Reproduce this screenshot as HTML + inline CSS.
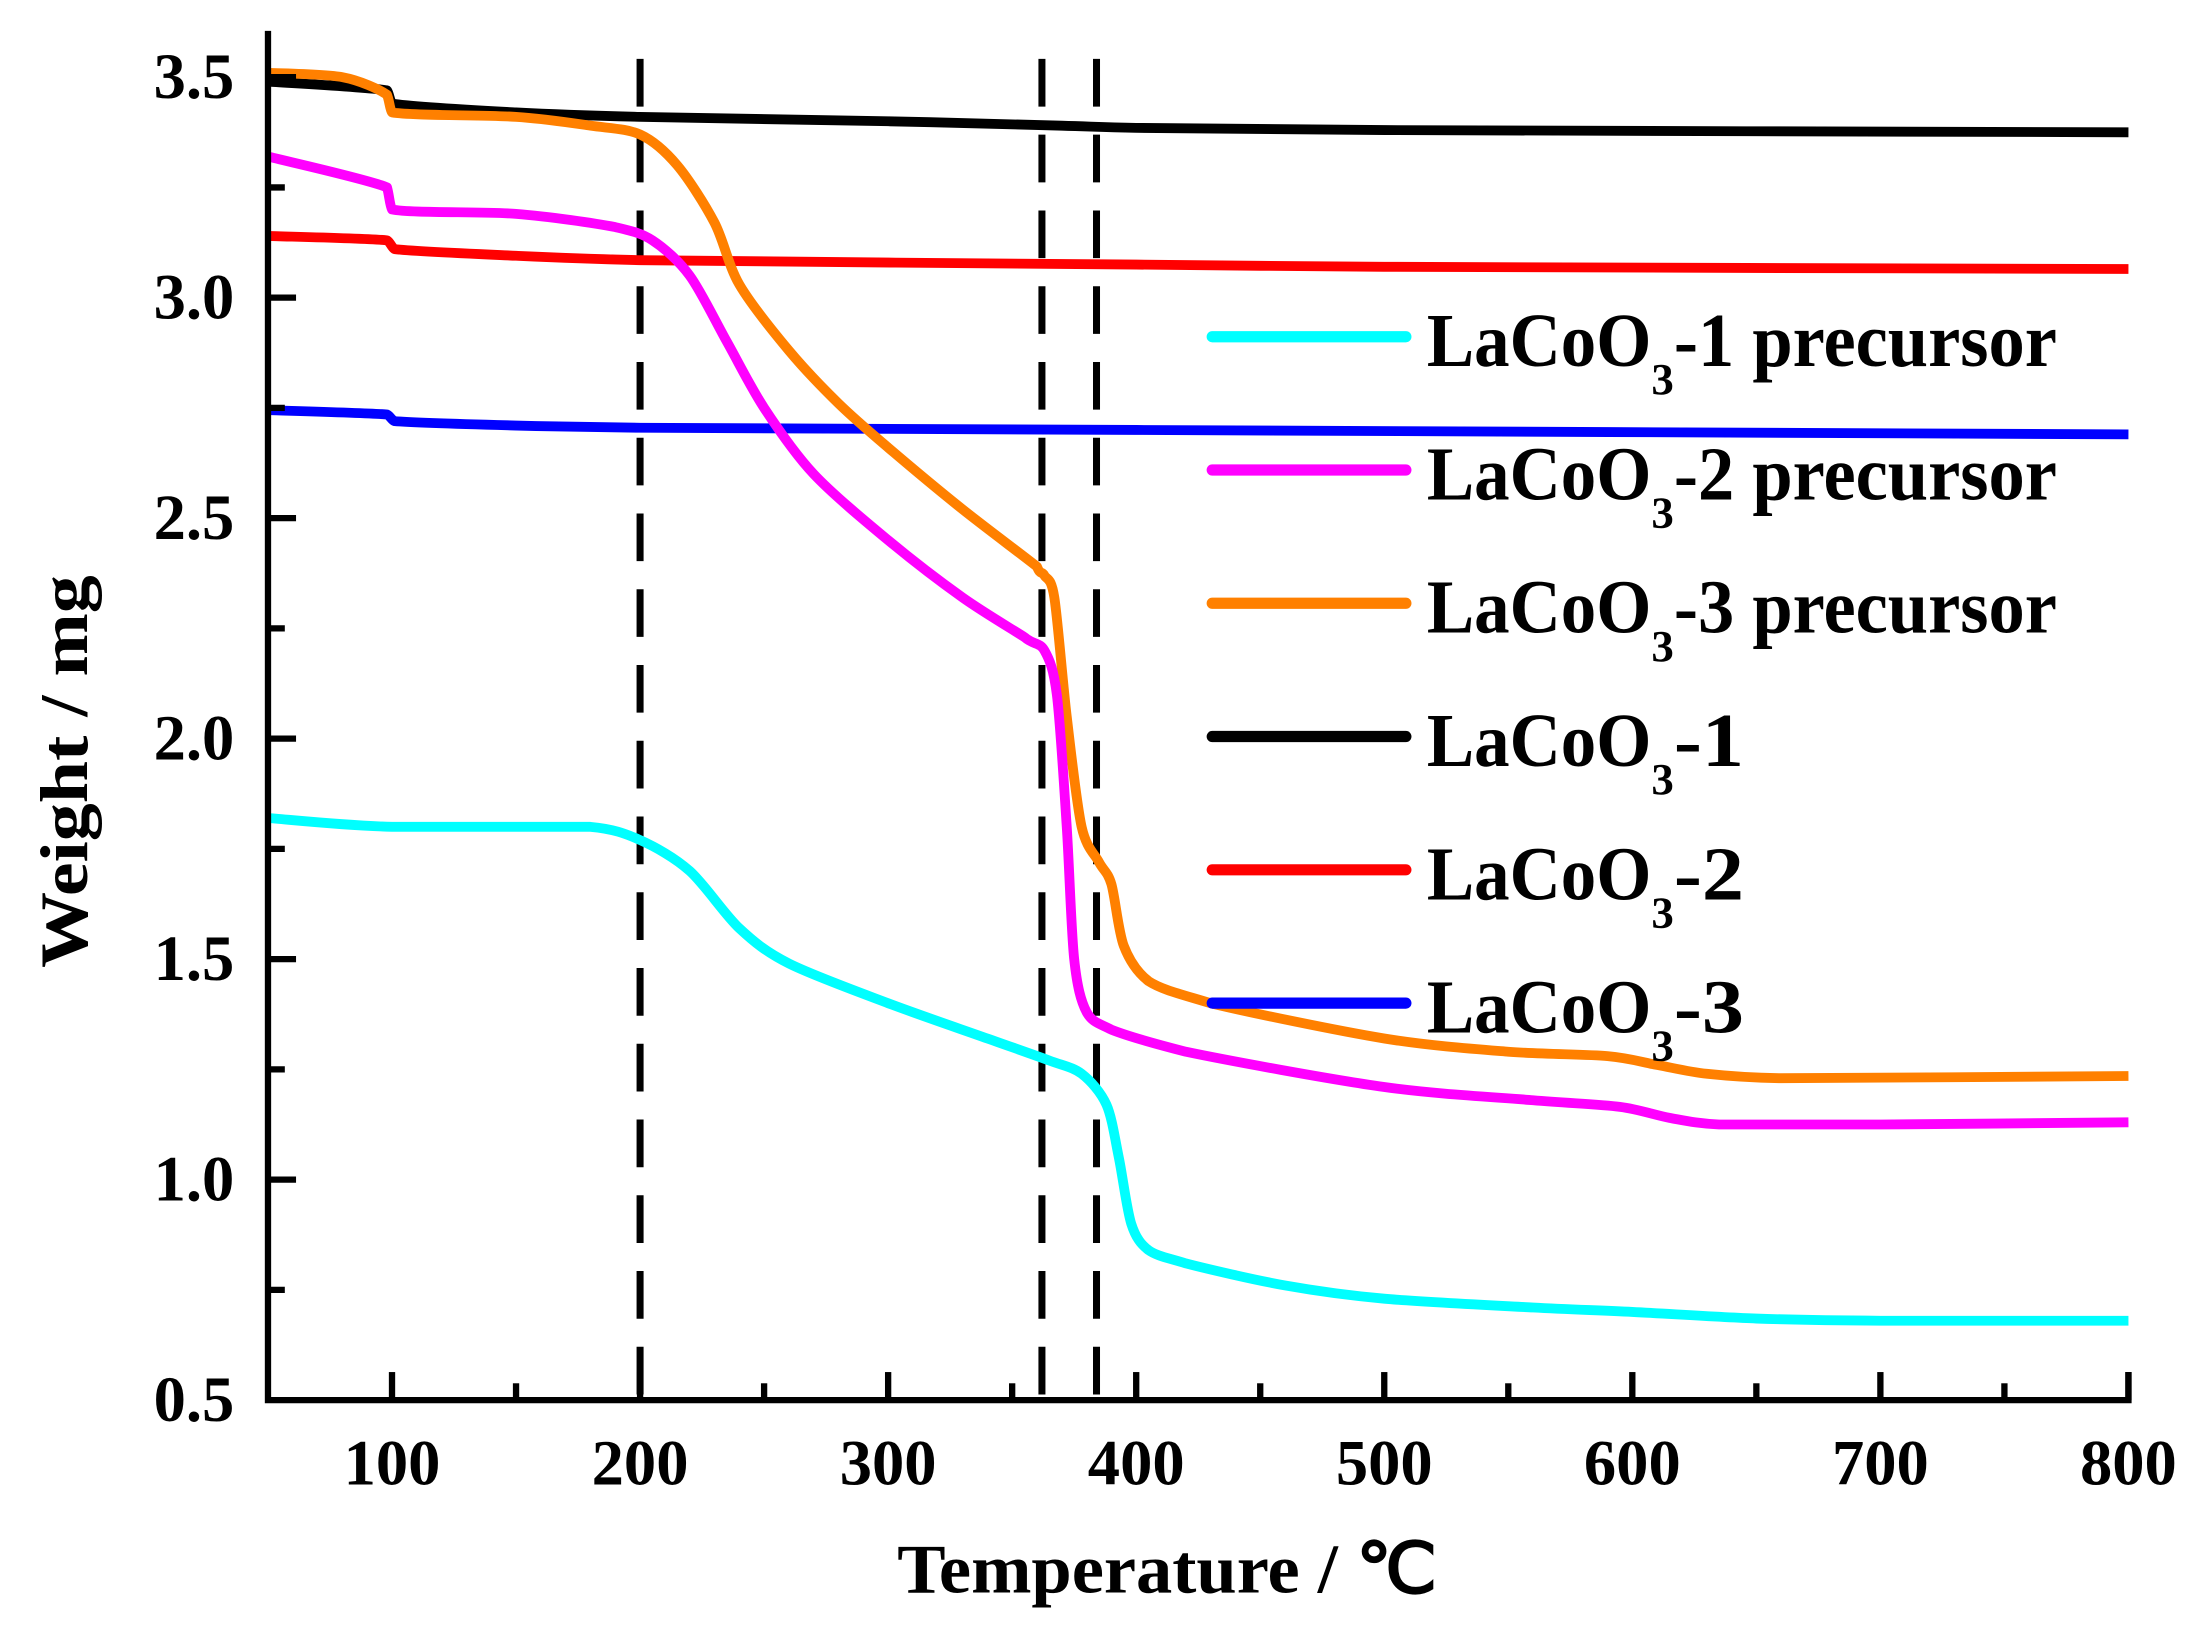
<!DOCTYPE html>
<html><head><meta charset="utf-8"><style>html,body{margin:0;padding:0;background:#fff}svg{display:block}</style></head>
<body>
<svg id="chart" width="2200" height="1633" viewBox="0 0 1568 1164" preserveAspectRatio="none" xmlns="http://www.w3.org/2000/svg" font-family="'Liberation Serif', serif">
<g id="plot"></g>
<g id="axes"></g>
<g id="legend"></g>
<text x="832" y="1135" font-size="50" font-weight="bold" text-anchor="middle" textLength="385" lengthAdjust="spacingAndGlyphs">Temperature / ℃</text>
<text transform="translate(62,550) rotate(-90)" font-size="48" font-weight="bold" text-anchor="middle" textLength="280" lengthAdjust="spacingAndGlyphs">Weight / mg</text>
</svg>
<script>
const xTicks=[100,200,300,400,500,600,700,800];
const yTicks=[0.5,1.0,1.5,2.0,2.5,3.0,3.5];
const dashedTemps=[200,362,384];
const seriesNames=["LaCoO3-1 precursor","LaCoO3-2 precursor","LaCoO3-3 precursor","LaCoO3-1","LaCoO3-2","LaCoO3-3"];
const seriesColors=["#00ffff","#ff00ff","#ff8000","#000000","#ff0000","#0000ff"];
const cyanT=[50,100,180,200,220,240,260,300,340,365,378,388,393,398,405,420,460,500,560,600,650,700,800];
const cyanW=[1.82,1.80,1.80,1.77,1.70,1.57,1.49,1.40,1.32,1.27,1.24,1.17,1.05,0.90,0.84,0.81,0.76,0.73,0.71,0.70,0.685,0.68,0.68];
const magT=[50,98,100,150,190,205,220,235,250,270,300,330,355,363,368,372,375,380,390,420,500,560,595,615,635,700,800];
const magW=[3.32,3.25,3.20,3.19,3.16,3.13,3.05,2.90,2.75,2.60,2.45,2.32,2.23,2.20,2.10,1.80,1.50,1.38,1.34,1.29,1.21,1.18,1.165,1.14,1.125,1.125,1.13];
const orT=[50,80,98,100,150,180,200,215,230,240,260,280,300,330,360,363,367,372,378,385,390,395,405,430,500,550,590,610,630,660,800];
const orW=[3.51,3.50,3.46,3.42,3.41,3.39,3.37,3.30,3.17,3.03,2.88,2.76,2.66,2.52,2.39,2.37,2.32,2.05,1.80,1.72,1.67,1.53,1.45,1.40,1.32,1.29,1.28,1.26,1.24,1.23,1.235];
const blackT=[50,98,100,150,200,300,370,400,500,800];
const blackW=[3.49,3.47,3.44,3.42,3.41,3.40,3.39,3.385,3.38,3.375];
const redT=[50,98,101,150,200,400,500,800];
const redW=[3.14,3.13,3.11,3.095,3.085,3.075,3.07,3.065];
const blueT=[50,98,101,150,200,400,800];
const blueW=[2.745,2.735,2.72,2.71,2.705,2.70,2.69];

const X0=191,X1=1517,Y0=998,Y1=55;
const xs=t=>X0+(t-50)/(800-50)*(X1-X0);
const ys=w=>Y0-(w-0.5)/(3.5-0.5)*(Y0-Y1);
const NS="http://www.w3.org/2000/svg";
function mk(tag,attrs,parent){const e=document.createElementNS(NS,tag);for(const k in attrs)e.setAttribute(k,attrs[k]);parent.appendChild(e);return e;}
const plot=document.getElementById('plot'),axes=document.getElementById('axes'),legend=document.getElementById('legend');

dashedTemps.forEach(t=>{
 const l=mk('line',{x1:xs(t),x2:xs(t),y1:42,y2:Y0,stroke:'#000','stroke-width':5,'stroke-dasharray':'34 20'},plot);
 
 
});
const data=[[cyanT,cyanW],[magT,magW],[orT,orW],[blackT,blackW],[redT,redW],[blueT,blueW]];
function smoothPath(P){
 let d=`M${P[0][0]},${P[0][1]}`;
 for(let i=0;i<P.length-1;i++){
  const p0=P[i-1]||P[i],p1=P[i],p2=P[i+1],p3=P[i+2]||p2;
  const dx=p2[0]-p1[0];
  const k=0.15;
  let c1x=p1[0]+Math.min((p2[0]-p0[0])*k,dx*0.45), c1y=p1[1]+(p2[1]-p0[1])*k;
  let c2x=p2[0]-Math.min((p3[0]-p1[0])*k,dx*0.45), c2y=p2[1]-(p3[1]-p1[1])*k;
  const lo=Math.min(p1[1],p2[1]),hi=Math.max(p1[1],p2[1]);
  c1y=Math.max(lo,Math.min(hi,c1y));c2y=Math.max(lo,Math.min(hi,c2y));
  d+=` C${c1x},${c1y} ${c2x},${c2y} ${p2[0]},${p2[1]}`;
 }
 return d;
}
const order=[3,4,5,2,1,0];
order.forEach(i=>{
 const [T,W]=data[i];
 const P=T.map((t,j)=>[xs(t),ys(W[j])]);
 const p=mk('path',{d:smoothPath(P),fill:'none',stroke:seriesColors[i],'stroke-width':7,'stroke-linejoin':'round'},plot);
 
 
});
const ax=mk('path',{d:`M${X0},22 L${X0},${Y0} L${X1},${Y0} L${X1},${Y0-20}`,fill:'none',stroke:'#000','stroke-width':4.5},axes);


for(let t=100;t<=800;t+=50){
 const major=t%100===0;
 const tk=mk('line',{x1:xs(t),x2:xs(t),y1:Y0,y2:Y0-(major?20:12),stroke:'#000','stroke-width':4.5},axes);
 
 
}
xTicks.forEach(t=>{
 const tx=mk('text',{x:xs(t),y:1058,'font-size':46,'font-weight':'bold','text-anchor':'middle'},axes);
 tx.textContent=t;
 
 
});
for(let w=0.75;w<=3.5;w+=0.25){
 const major=Math.abs(w*2-Math.round(w*2))<1e-6;
 const tk=mk('line',{x1:X0,x2:X0+(major?20:12),y1:ys(w),y2:ys(w),stroke:'#000','stroke-width':4.5},axes);
 
 
}
yTicks.forEach(w=>{
 const tx=mk('text',{x:167,y:ys(w)+15,'font-size':46,'font-weight':'bold','text-anchor':'end'},axes);
 tx.textContent=w.toFixed(1);
 
 
});
seriesNames.forEach((n,i)=>{
 const y=240+i*95;
 const ln=mk('line',{x1:864,x2:1002,y1:y,y2:y,stroke:seriesColors[i],'stroke-width':8,'stroke-linecap':'round'},legend);
 
 
 const tx=mk('text',{x:1017,y:y+21,'font-size':54,'font-weight':'bold'},legend);
 
 
 const rest=n.slice(6);
 const a=document.createElementNS(NS,'tspan');a.textContent='LaCoO';a.setAttribute('textLength','160');a.setAttribute('lengthAdjust','spacingAndGlyphs');tx.appendChild(a);
 const b=document.createElementNS(NS,'tspan');b.textContent='3';b.setAttribute('font-size','32');b.setAttribute('dy','20');tx.appendChild(b);
 const c=document.createElementNS(NS,'tspan');c.textContent=rest;c.setAttribute('dy','-20');tx.appendChild(c);
 c.setAttribute('textLength',rest.length>3?'273':'50');c.setAttribute('lengthAdjust','spacingAndGlyphs');
});
</script>
</body></html>
